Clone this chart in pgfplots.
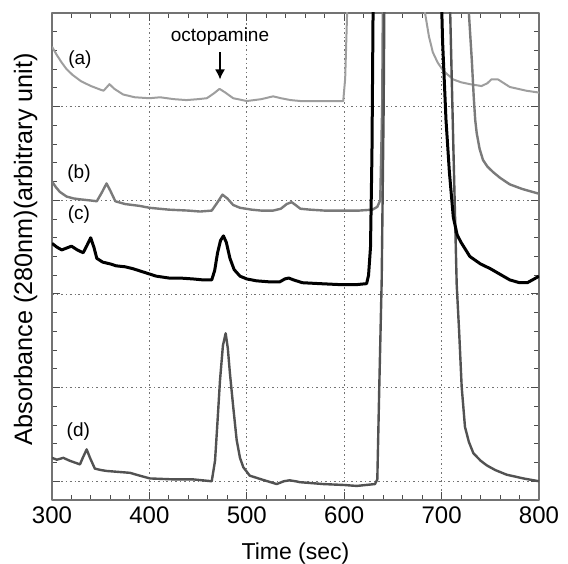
\documentclass[border=0pt]{standalone}
\usepackage{fontspec}
\setmainfont{Liberation Sans}
\usepackage{pgfplots}
\pgfplotsset{compat=1.18}
\usetikzlibrary{arrows.meta,calc}

% chromatogram traces, time (sec) vs absorbance (offset, arbitrary)
\pgfplotstableread{
x y
300 4.64
305 4.55
310 4.47
315 4.40
321 4.34
330 4.27
340 4.22
350 4.18
353 4.17
359 4.24
364 4.19
373 4.13
385 4.10
400 4.09
411 4.10
425 4.08
438 4.07
450 4.08
459 4.09
466 4.14
472 4.19
478 4.15
486 4.09
500 4.06
515 4.08
527 4.11
535 4.09
545 4.07
555 4.06
570 4.06
585 4.06
599 4.06
601 4.30
603 5.00
604 5.50
680 5.30
683 5.00
687 4.75
691 4.58
696 4.47
702 4.38
712 4.29
720 4.26
729 4.24
741 4.22
747 4.25
751 4.29
758 4.29
764 4.25
770 4.21
787 4.17
800 4.15
}\tracea

\pgfplotstableread{
x y
300 3.20
304 3.14
308 3.09
315 3.04
322 3.02
329 3.01
338 3.00
346 2.99
351 3.08
356 3.18
360 3.10
365 2.99
375 2.96
390 2.94
400 2.92
420 2.90
440 2.89
452 2.88
464 2.89
470 2.98
475 3.06
480 3.02
486 2.95
493 2.92
505 2.90
515 2.89
527 2.89
535 2.91
541 2.96
546 2.98
550 2.95
555 2.91
565 2.90
580 2.89
596 2.89
615 2.89
629 2.90
634 2.93
637 3.00
639 4.00
640 5.50
726 5.50
728 5.00
731 4.50
733 4.10
734.5 3.86
736 3.72
739 3.55
742.5 3.43
747 3.36
753 3.30
760 3.24
770 3.17
783 3.12
800 3.07
}\traceb

\pgfplotstableread{
x y
300 2.54
305 2.50
310 2.47
315 2.49
320 2.51
326 2.47
332 2.44
336 2.52
339.7 2.60
343 2.50
346 2.38
352 2.34
360 2.32
366 2.30
375 2.29
383 2.27
395 2.23
407 2.19
420 2.17
431 2.17
445 2.16
455 2.15
464 2.15
467 2.25
470 2.44
473 2.57
476 2.62
479 2.55
482.7 2.38
487 2.26
493 2.19
500 2.16
510 2.14
522 2.13
534 2.13
539 2.16
543 2.17
548 2.15
557 2.12
575 2.11
595 2.10
613 2.10
623 2.11
625 2.20
627 2.50
628.5 3.50
630 5.50
699 5.50
701 4.70
704.5 3.86
708 3.30
712 2.82
716 2.63
720 2.55
729 2.40
740 2.32
750 2.27
760 2.21
770 2.15
780 2.12
788 2.12
795 2.16
800 2.19
}\tracec

\pgfplotstableread{
x y
300 0.25
305 0.23
311.6 0.25
318 0.22
328.7 0.18
332 0.26
335.6 0.34
339 0.25
344 0.135
350 0.12
356 0.11
368 0.10
380 0.09
390 0.06
400.6 0.03
424.5 0.02
445 0.02
464 0.00
467.4 0.22
470 0.65
472.5 1.08
475.5 1.45
478.3 1.58
480.5 1.42
482.7 1.15
486 0.80
489.6 0.44
493 0.25
496.4 0.15
503 0.06
515 0.02
530.7 -0.03
538 0.00
544 0.01
550 0.00
554.6 -0.01
578.6 -0.03
600 -0.04
612.8 -0.05
631.6 -0.03
634 0.02
636 1.00
638.5 2.15
640.5 4.00
641.5 5.50
707 5.50
708.6 5.10
712 3.60
715.5 2.10
718 1.60
720.6 1.01
724 0.58
728 0.42
732.6 0.30
740 0.22
746.3 0.17
755 0.12
766.8 0.07
784 0.03
800 0.00
}\traced

\begin{document}
\begin{tikzpicture}
\begin{axis}[
  scale only axis, width=243.5pt, height=243.5pt,
  xmin=300, xmax=800, ymin=-0.2, ymax=5,
  xtick={300,400,...,800}, ytick={0,1,...,5}, yticklabels={},
  minor x tick num=4, minor y tick num=4,
  grid=major,
  major grid style={black!55, line width=0.4pt, dash pattern=on 1pt off 1.5pt on 0.4pt off 1.5pt},
  axis line style={black!55, line width=0.6pt},
  tick style={black!70, line width=0.5pt},
  major tick length=4pt, minor tick length=2.5pt,
  tick align=inside,
  /pgf/number format/assume math mode=true,
  xticklabel style={font=\fontsize{12}{14}\selectfont},
  xlabel={Time (sec)},
  ylabel={Absorbance (280nm)(arbitrary unit)},
  xlabel style={font=\fontsize{11.5}{14}\selectfont, at={(axis description cs:0.5,-0.1232)}, anchor=base},
  ylabel style={font=\fontsize{12.6}{15}\selectfont, at={(axis description cs:-0.041,0.515)}, anchor=base},
  line join=round,
]
\addplot[no marks, black!38, line width=1pt] table {\tracea};
\addplot[no marks, black!52, line width=1.2pt] table {\traceb};
\addplot[no marks, black!68, line width=1.2pt] table {\traced};
\addplot[no marks, black, line width=1.5pt] table {\tracec};
\node[font=\fontsize{9.5}{11}\selectfont] at (axis cs:328.7,4.50) {(a)};
\node[font=\fontsize{9.5}{11}\selectfont] at (axis cs:327.7,3.29) {(b)};
\node[font=\fontsize{9.5}{11}\selectfont] at (axis cs:327.7,2.85) {(c)};
\node[font=\fontsize{9.5}{11}\selectfont] at (axis cs:327,0.53) {(d)};
\node[font=\fontsize{9.5}{11}\selectfont] at (axis cs:472.5,4.75) {octopamine};
\draw[black, line width=0.8pt, -{Latex[length=5pt,width=5pt]}] (axis cs:472.5,4.58) -- (axis cs:472.5,4.29);
\end{axis}
\pgfresetboundingbox
\path[use as bounding box] ($(current axis.south west)+(-26pt,-32pt)$) rectangle ($(current axis.north east)+(14.5pt,6.5pt)$);
\end{tikzpicture}
\end{document}
